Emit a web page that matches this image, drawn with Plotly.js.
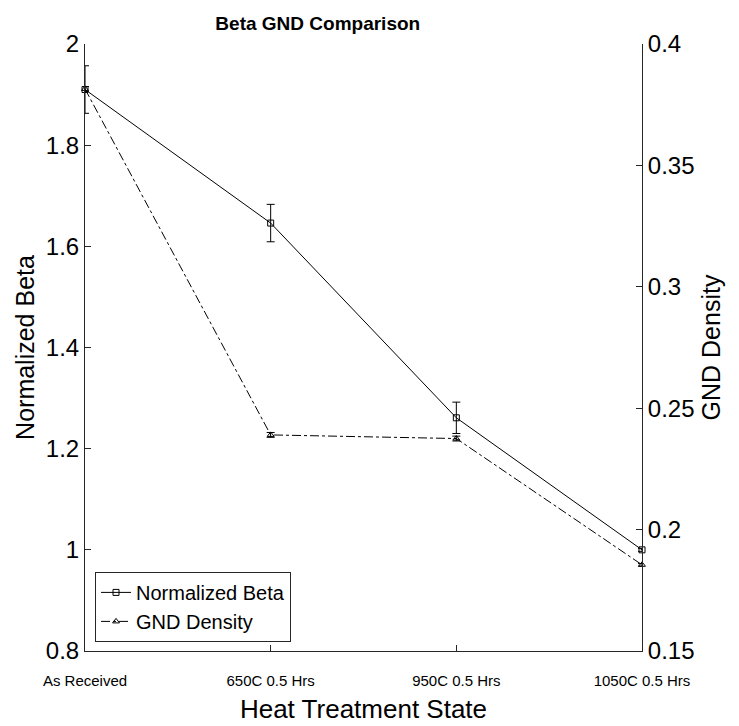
<!DOCTYPE html>
<html>
<head>
<meta charset="utf-8">
<script src="https://cdn.plot.ly/plotly-3.0.1.min.js"></script>
<style>html,body{margin:0;padding:0;background:#fff;}#chart{width:739px;height:726px;}</style>
</head>
<body>
<div id="chart"></div>
<script>
const categories = ["As Received", "650C 0.5 Hrs", "950C 0.5 Hrs", "1050C 0.5 Hrs"];
const normalizedBeta = [1.91, 1.646, 1.261, 1.0];
const normalizedBetaErr = [0.047, 0.037, 0.031, 0.003];
const gndDensity = [0.3815, 0.239, 0.2375, 0.1855];
const gndDensityErr = [0.001, 0.001, 0.001, 0.0005];
const yTicks = [0.8, 1, 1.2, 1.4, 1.6, 1.8, 2];
const yTickText = ["0.8", "1", "1.2", "1.4", "1.6", "1.8", "2"];
const y2Ticks = [0.15, 0.2, 0.25, 0.3, 0.35, 0.4];
const y2TickText = ["0.15", "0.2", "0.25", "0.3", "0.35", "0.4"];

const xIdx = categories.map((c, i) => i);
const ink = "#262626";
const font = "Liberation Sans, Arial, Helvetica, sans-serif";

const traces = [
  {
    x: xIdx, y: normalizedBeta, name: "Normalized Beta", type: "scatter", mode: "lines+markers",
    line: {color: "#000", width: 1}, marker: {symbol: "square-open", size: 6, color: "#000", line: {width: 1}},
    error_y: {type: "data", array: normalizedBetaErr, visible: true, color: "#000", thickness: 1, width: 4},
    cliponaxis: false, yaxis: "y"
  },
  {
    x: xIdx, y: gndDensity, name: "GND Density", type: "scatter", mode: "lines+markers",
    line: {color: "#000", width: 1, dash: "dashdot"}, marker: {symbol: "triangle-up-open", size: 6, color: "#000", line: {width: 1}},
    error_y: {type: "data", array: gndDensityErr, visible: true, color: "#000", thickness: 1, width: 4},
    cliponaxis: false, yaxis: "y2"
  }
];

const layout = {
  width: 739, height: 726,
  margin: {l: 85, r: 97, t: 44, b: 75},
  paper_bgcolor: "#fff", plot_bgcolor: "#fff",
  showlegend: true,
  font: {family: font, color: "#000"},
  title: {text: "<b>Beta GND Comparison</b>", font: {size: 19, family: font, color: "#000"}, x: 0.43, xanchor: "center", y: 0.968, yref: "container", yanchor: "middle"},
  xaxis: {
    range: [0, 3], tickvals: xIdx, ticktext: categories, showgrid: false, zeroline: false,
    showline: true, linecolor: ink, linewidth: 1, ticks: "inside", ticklen: 6, tickcolor: ink,
    tickfont: {size: 15, family: font},
    ticklabelstandoff: 16,
    title: {text: "Heat Treatment State", font: {size: 26, family: font}, standoff: 11},
    fixedrange: true
  },
  yaxis: {
    range: [0.8, 2], tickvals: yTicks, ticktext: yTickText, showgrid: false, zeroline: false,
    showline: true, linecolor: ink, linewidth: 1, ticks: "inside", ticklen: 6, tickcolor: ink,
    tickfont: {size: 24, family: font},
    title: {text: "Normalized Beta", font: {size: 25, family: font}, standoff: 4}
  },
  yaxis2: {
    range: [0.15, 0.4], tickvals: y2Ticks, ticktext: y2TickText, overlaying: "y", side: "right",
    showgrid: false, zeroline: false,
    showline: true, linecolor: ink, linewidth: 1, ticks: "inside", ticklen: 6, tickcolor: ink,
    tickfont: {size: 24, family: font},
    title: {text: "GND Density", font: {size: 25, family: font}, standoff: 8}
  },
  legend: {
    x: 0.018, y: 0.015, xanchor: "left", yanchor: "bottom",
    bgcolor: "#fff", bordercolor: ink, borderwidth: 1,
    font: {size: 20, family: font, color: "#000"},
    tracegroupgap: 0, itemwidth: 30
  }
};

Plotly.newPlot("chart", traces, layout, {displayModeBar: false, staticPlot: true});
</script>
</body>
</html>
